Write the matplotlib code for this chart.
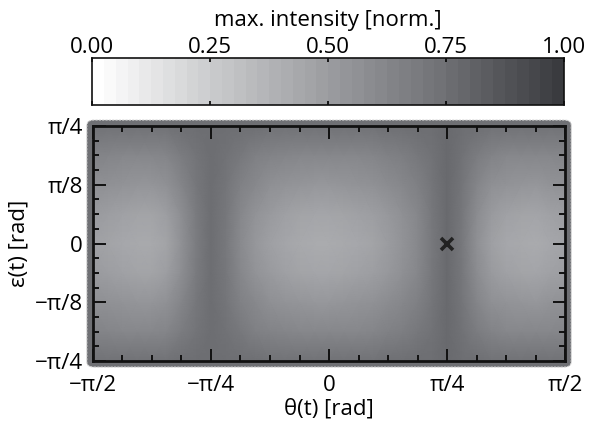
import numpy as np
import matplotlib
matplotlib.use("Agg")
import matplotlib.pyplot as plt
from matplotlib.colors import LinearSegmentedColormap, BoundaryNorm
from matplotlib.patches import FancyBboxPatch

plt.rcParams['font.family'] = ['Open Sans', 'DejaVu Sans']

# grid: theta in steps of pi/32, epsilon in steps of pi/16
theta_steps = np.arange(-16, 17)          # units of pi/32
eps_steps = np.arange(-4, 5)              # units of pi/16

# max. intensity, one row per epsilon level
row_k0 = [0.48, 0.46, 0.44, 0.43, 0.43, 0.46, 0.56, 0.68, 0.76, 0.70, 0.60,
          0.53, 0.48, 0.45, 0.43, 0.42, 0.42, 0.43, 0.44, 0.46, 0.50, 0.55,
          0.61, 0.70, 0.78, 0.70, 0.57, 0.48, 0.44, 0.43, 0.42, 0.44, 0.46]
row_k1 = [0.51, 0.49, 0.47, 0.46, 0.46, 0.49, 0.58, 0.69, 0.76, 0.71, 0.62,
          0.55, 0.51, 0.48, 0.46, 0.45, 0.45, 0.46, 0.47, 0.49, 0.52, 0.57,
          0.62, 0.71, 0.78, 0.71, 0.59, 0.51, 0.47, 0.46, 0.45, 0.47, 0.49]
row_k2 = [0.57, 0.56, 0.55, 0.54, 0.54, 0.56, 0.63, 0.71, 0.76, 0.72, 0.65,
          0.61, 0.57, 0.55, 0.54, 0.53, 0.53, 0.54, 0.55, 0.56, 0.59, 0.62,
          0.66, 0.72, 0.78, 0.72, 0.63, 0.57, 0.55, 0.54, 0.53, 0.55, 0.56]
row_k3 = [0.64, 0.63, 0.62, 0.62, 0.62, 0.63, 0.68, 0.73, 0.76, 0.74, 0.70,
          0.66, 0.64, 0.63, 0.62, 0.62, 0.62, 0.62, 0.62, 0.63, 0.65, 0.67,
          0.70, 0.74, 0.78, 0.74, 0.68, 0.64, 0.62, 0.62, 0.62, 0.62, 0.63]
row_k4 = [0.74, 0.74, 0.74, 0.74, 0.74, 0.74, 0.75, 0.76, 0.76, 0.76, 0.75,
          0.75, 0.74, 0.74, 0.74, 0.74, 0.74, 0.74, 0.74, 0.74, 0.75, 0.75,
          0.76, 0.76, 0.78, 0.76, 0.75, 0.74, 0.74, 0.74, 0.74, 0.74, 0.74]
intensity = np.array([row_k4, row_k3, row_k2, row_k1, row_k0,
                      row_k1, row_k2, row_k3, row_k4])

marker_theta = np.pi / 4
marker_eps = 0.0

x_ticks = [-np.pi / 2, -np.pi / 4, 0, np.pi / 4, np.pi / 2]
x_labels = ['\u2212\u03c0/2', '\u2212\u03c0/4', '0', '\u03c0/4', '\u03c0/2']
y_ticks = [-np.pi / 4, -np.pi / 8, 0, np.pi / 8, np.pi / 4]
y_labels = ['\u2212\u03c0/4', '\u2212\u03c0/8', '0', '\u03c0/8', '\u03c0/4']
cb_ticks = [0.0, 0.25, 0.5, 0.75, 1.0]

cmap = LinearSegmentedColormap.from_list(
    'greys', ['#ffffff', '#c9cacc', '#9b9ca0', '#6f7074', '#3a3b3f'])
levels = np.linspace(0, 1, 41)
norm = BoundaryNorm(levels, cmap.N)

fs = 16

fig = plt.figure(figsize=(5.95, 4.33), dpi=100)
ax = fig.add_axes([0.156, 0.166, 0.794, 0.543])
cax = fig.add_axes([0.155, 0.758, 0.793, 0.108])
ax.set_zorder(2)
ax.patch.set_alpha(0)

# rounded gray frame behind the map
pad_x = 6 / 595
pad_y = 6 / 433
frame = FancyBboxPatch((0.156 - pad_x, 0.166 - pad_y), 0.794 + 2 * pad_x,
                       0.543 + 2 * pad_y, boxstyle='round,pad=0,rounding_size=0.012',
                       transform=fig.transFigure, facecolor='#6f7074',
                       edgecolor='#d8d8d8', linestyle=(0, (2, 1)), linewidth=0.8,
                       zorder=0)
fig.patches.append(frame)

tx = theta_steps * np.pi / 32
ey = eps_steps * np.pi / 16
ax.pcolormesh(tx, ey, intensity, cmap=cmap, vmin=0, vmax=1, shading='gouraud')
ax.plot([marker_theta], [marker_eps], marker='x', color='#222222',
        markersize=9, markeredgewidth=2.6, linestyle='none')

ax.set_xlim(-np.pi / 2, np.pi / 2)
ax.set_ylim(-np.pi / 4, np.pi / 4)
ax.set_xticks(x_ticks)
ax.set_xticklabels(x_labels)
ax.set_yticks(y_ticks)
ax.set_yticklabels(y_labels)
ax.set_xticks(np.arange(-8, 9) * np.pi / 16, minor=True)
ax.set_yticks(np.arange(-8, 9) * np.pi / 32, minor=True)
ax.tick_params(which='both', direction='in', top=True, right=True,
               labelsize=fs, color='#111111', width=1.4, pad=7)
ax.tick_params(axis='x', which='both', pad=10)
ax.tick_params(which='major', length=9)
ax.tick_params(which='minor', length=4.5)
for sp in ax.spines.values():
    sp.set_linewidth(2)
    sp.set_color('#111111')
ax.set_xlabel('\u03b8(t) [rad]', fontsize=fs, labelpad=2)
ax.set_ylabel('\u03b5(t) [rad]', fontsize=fs, labelpad=4)

# colorbar on top
cb_vals = levels[:-1] + 0.0125
cax.pcolormesh(levels, [0, 1], cb_vals[np.newaxis, :], cmap=cmap, norm=norm)
cax.set_xlim(0, 1)
cax.set_ylim(0, 1)
cax.set_yticks([])
cax.set_xticks(cb_ticks)
cax.set_xticklabels(['%.2f' % t for t in cb_ticks])
cax.xaxis.set_ticks_position('both')
cax.xaxis.set_label_position('top')
cax.tick_params(axis='x', direction='in', labeltop=True, labelbottom=False,
                length=3, width=1.2, labelsize=fs, pad=0)
for sp in cax.spines.values():
    sp.set_linewidth(1.2)
    sp.set_color('#111111')
cax.set_xlabel('max. intensity [norm.]', fontsize=fs, labelpad=8)

fig.savefig('out.png', dpi=100)
